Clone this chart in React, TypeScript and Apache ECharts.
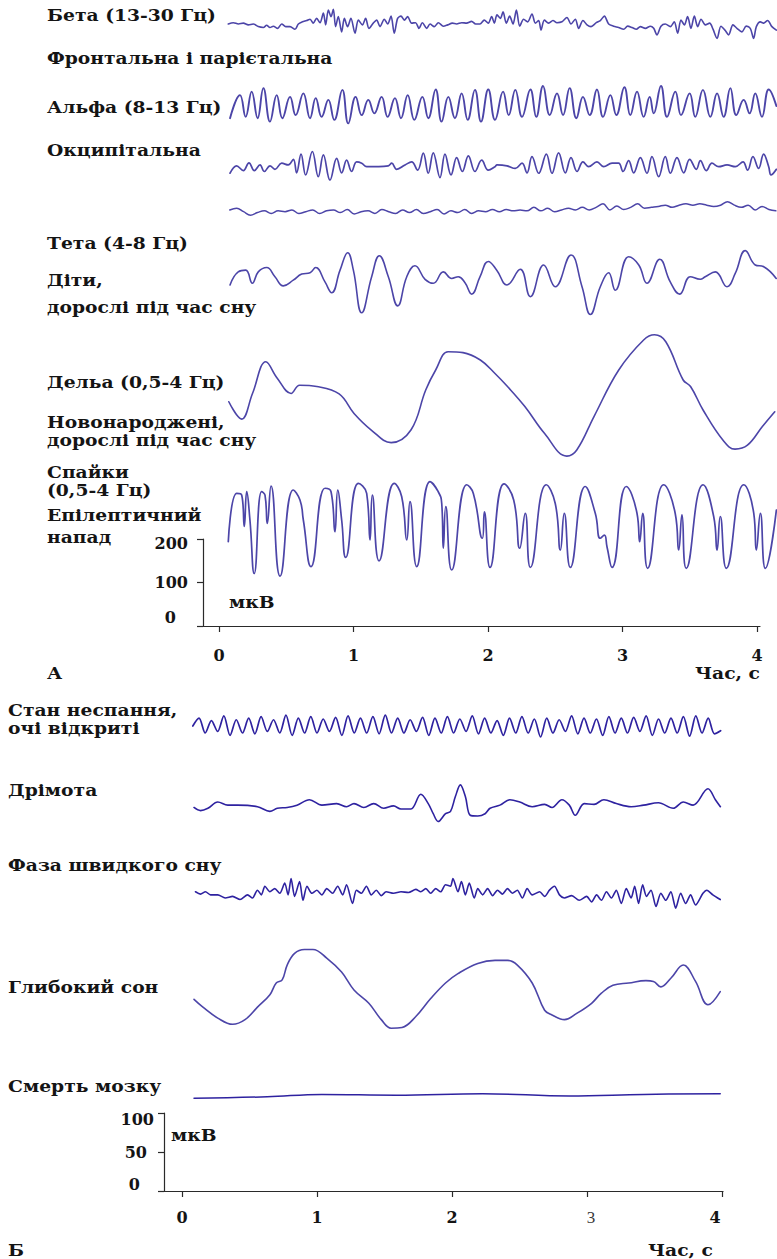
import React, { useEffect, useRef } from "react";
import * as echarts from "echarts";

// ---------- tick labels ----------
const timeTicks = [0, 1, 2, 3, 4];
const ampTicksA = [0, 100, 200];
const ampTicksB = [0, 50, 100];

// ---------- section A traces: [time s, µV] ----------
const betaA: [number, number][] = [
  [0.069, 0], [0.107, 3], [0.144, 0], [0.181, 2], [0.218, -2], [0.255, 0], [0.292, -6], [0.33, -8], [0.354, -3], [0.379, -8],
  [0.404, -5], [0.436, -10], [0.466, 0], [0.496, -6], [0.528, -6], [0.565, -12], [0.59, 0], [0.62, 5], [0.652, 8], [0.677, 11],
  [0.701, 2], [0.726, 13], [0.751, 3], [0.776, 25], [0.793, -2], [0.813, 32], [0.833, 17], [0.85, 34], [0.867, -6], [0.887, 17],
  [0.912, -18], [0.932, 13], [0.956, -6], [0.981, 13], [1.011, -21], [1.036, 9], [1.066, -2], [1.09, 13], [1.115, -10], [1.147, 2],
  [1.172, 9], [1.197, -6], [1.229, 11], [1.254, 0], [1.279, 18], [1.303, -21], [1.328, 13], [1.353, 18], [1.378, 9], [1.403, 17],
  [1.432, 2], [1.462, 3], [1.487, -10], [1.512, 3], [1.544, -10], [1.569, 0], [1.601, -6], [1.631, 3], [1.668, -5], [1.7, -2],
  [1.735, 2], [1.767, 0], [1.804, 3], [1.841, 2], [1.878, 6], [1.908, 0], [1.94, 0], [1.972, 9], [2.002, 2], [2.027, 17],
  [2.047, 2], [2.067, 21], [2.092, 13], [2.112, 28], [2.136, 2], [2.161, 18], [2.186, 0], [2.211, 32], [2.236, -5], [2.265, 11],
  [2.295, 5], [2.327, 23], [2.352, 2], [2.377, 8], [2.394, -14], [2.419, 9], [2.451, 2], [2.483, 8], [2.513, 3], [2.55, 5],
  [2.587, 15], [2.617, 0], [2.649, 11], [2.674, -10], [2.706, 8], [2.736, -2], [2.766, -6], [2.805, 3], [2.835, 8], [2.865, 18],
  [2.897, 0], [2.934, -5], [2.971, -8], [3.009, -12], [3.038, -5], [3.071, -8], [3.103, -12], [3.133, -6], [3.17, -10], [3.207, -5],
  [3.232, -10], [3.256, -25], [3.286, -5], [3.318, 0], [3.356, -6], [3.385, 5], [3.41, -21], [3.435, 9], [3.46, -2], [3.484, 17],
  [3.509, -10], [3.534, 18], [3.559, -6], [3.584, 11], [3.616, -2], [3.648, 2], [3.673, -12], [3.703, -33], [3.732, -5], [3.764, -15],
  [3.789, -25], [3.821, -2], [3.851, -10], [3.888, -18], [3.92, -5], [3.95, -10], [3.975, -33], [3.995, -6], [4.025, 5], [4.049, 2],
  [4.079, 8], [4.111, -6], [4.144, -14],
];

const alphaA: [number, number][] = [
  [0.082, -28], [0.156, 25], [0.198, -25], [0.243, 33], [0.287, -28], [0.33, 41], [0.379, -36], [0.429, 25], [0.471, -28], [0.528, 21],
  [0.57, -21], [0.627, 29], [0.677, -28], [0.719, 18], [0.763, -25], [0.813, 14], [0.857, -32], [0.917, 37], [0.961, -40], [1.016, 21],
  [1.061, -21], [1.11, 14], [1.155, -17], [1.209, 21], [1.254, -25], [1.308, 18], [1.353, -28], [1.403, 25], [1.452, -32], [1.512, 21],
  [1.556, -28], [1.611, 38], [1.655, -36], [1.705, 21], [1.754, -28], [1.804, 29], [1.849, -32], [1.903, 37], [1.948, -36], [2.002, 38],
  [2.052, -32], [2.112, 33], [2.154, -21], [2.203, 37], [2.253, -25], [2.315, 38], [2.359, -25], [2.409, 46], [2.459, -21], [2.513, 29],
  [2.558, -21], [2.607, 41], [2.657, -28], [2.706, 21], [2.756, -21], [2.81, 38], [2.855, -25], [2.91, 25], [2.954, -21], [3.014, 43],
  [3.058, -21], [3.108, 33], [3.157, -25], [3.202, 21], [3.232, -17], [3.286, 46], [3.331, -25], [3.393, 33], [3.435, -21], [3.499, 29],
  [3.541, -25], [3.598, 37], [3.653, -25], [3.703, 29], [3.752, -25], [3.802, 41], [3.846, -21], [3.901, 14], [3.945, -17], [3.987, 29],
  [4.037, -25], [4.087, 38], [4.144, 0],
];

const occipitalA: [number, number][] = [
  [0.082, -15], [0.131, 2], [0.181, -9], [0.223, 9], [0.263, -9], [0.305, 4], [0.337, -11], [0.379, 2], [0.416, -6], [0.466, 8],
  [0.515, 4], [0.553, 17], [0.577, -14], [0.61, 29], [0.644, -19], [0.694, 35], [0.738, -23], [0.776, 27], [0.825, -31], [0.875, 19],
  [0.912, -14], [0.949, 15], [0.986, -11], [1.023, 11], [1.061, 8], [1.098, 0], [1.259, 2], [1.284, 8], [1.321, -6], [1.383, 4],
  [1.432, 11], [1.477, -8], [1.519, 31], [1.556, -15], [1.593, 32], [1.643, -25], [1.68, 29], [1.725, -19], [1.767, 21], [1.809, -11],
  [1.854, 25], [1.903, -11], [1.953, 15], [2.002, -8], [2.052, 0], [2.067, 4], [2.141, 2], [2.203, -4], [2.253, 8], [2.29, -14],
  [2.327, 23], [2.377, -15], [2.434, 29], [2.476, -15], [2.525, 32], [2.575, -14], [2.617, 21], [2.662, -11], [2.706, 11], [2.748, 0],
  [2.81, 11], [2.86, 0], [2.922, 8], [2.971, 8], [3.004, -11], [3.046, 14], [3.083, -14], [3.133, 21], [3.182, -15], [3.219, 23],
  [3.269, -23], [3.318, 23], [3.356, -15], [3.405, 21], [3.455, -14], [3.499, 17], [3.549, -6], [3.579, 14], [3.623, -9], [3.665, 8],
  [3.715, 0], [3.777, 4], [3.839, 0], [3.896, 11], [3.93, -8], [3.97, 23], [4.012, -4], [4.049, 29], [4.087, 0], [4.104, -19],
  [4.144, -6],
];

// low-amplitude occipital trace, equally spaced samples from 0.08 s to 4.14 s
const flatValuesA = [
  4, 8, 0, -8, -2, 2, -4, 2, 0, 4, -4, 0, 4, -4, 2, 4, -2, 5, -5, 0, 2, -4, 5, 0, -4, 4, -2, 5, -4, 0, 5, -5, 2, -2, 5, -4, 2, 0, 5, 0, 5, 2, 4,
  2, 10, 2, 8, 0, 4, 8, 4, 10, 4, 10, 18, 4, 13, 5, 10, 18, 8, 10, 12, 15, 10, 15, 18, 15, 18, 15, 12, 15, 23, 15, 10, 15, 4, 12, 5, 2,
];

const thetaA: [number, number][] = [
  [0.082, -16], [0.143, 14], [0.199, 18], [0.248, -12], [0.292, 14], [0.355, 24], [0.416, 3], [0.478, -18], [0.552, -5], [0.615, 9],
  [0.677, 12], [0.719, 24], [0.788, -9], [0.838, -34], [0.9, 18], [0.957, 58], [0.999, 18], [1.061, -80], [1.135, 3], [1.192, 51],
  [1.259, 3], [1.329, -64], [1.396, 3], [1.457, 28], [1.532, -3], [1.593, -12], [1.668, 14], [1.73, -1], [1.779, 3], [1.829, -11],
  [1.879, -37], [1.941, 3], [2.002, 38], [2.065, 18], [2.141, -16], [2.24, 20], [2.315, -43], [2.414, 30], [2.5, -20], [2.617, 53],
  [2.699, -20], [2.761, -84], [2.835, -20], [2.897, 12], [2.946, -28], [3.046, 49], [3.121, 30], [3.182, -12], [3.277, 43], [3.355, -9],
  [3.425, -37], [3.504, 3], [3.578, -3], [3.615, 3], [3.69, 14], [3.777, -20], [3.839, 11], [3.913, 63], [3.987, 30], [4.05, 26],
  [4.143, -1],
];

const deltaA: [number, number][] = [
  [0.073, -4], [0.169, -44], [0.249, 15], [0.348, 88], [0.433, 50], [0.536, 15], [0.599, 34], [0.727, 31], [0.893, 14], [1.004, -31],
  [1.132, -69], [1.28, -98], [1.427, -69], [1.537, 23], [1.611, 69], [1.703, 111], [1.814, 109], [1.943, 92], [2.052, 61], [2.145, 31],
  [2.274, -15], [2.421, -77], [2.586, -129], [2.66, -115], [2.788, -38], [2.972, 69], [3.157, 138], [3.238, 150], [3.322, 134], [3.451, 46],
  [3.506, 31], [3.599, -23], [3.746, -92], [3.837, -113], [3.929, -104], [4.04, -61], [4.132, -27],
];

const spikesA: [number, number][] = [
  [0.069, -27], [0.132, 84], [0.169, 80], [0.188, 8], [0.206, 88], [0.23, 23], [0.262, -100], [0.317, 88], [0.342, 80], [0.359, 15],
  [0.387, 101], [0.454, -106], [0.552, 92], [0.602, 69], [0.627, 23], [0.684, -84], [0.788, 96], [0.833, 88], [0.862, -4], [0.883, 92],
  [0.912, 23], [0.942, -63], [1.036, 107], [1.098, 84], [1.123, -23], [1.14, 80], [1.19, -71], [1.303, 107], [1.358, 77], [1.396, -23],
  [1.42, 65], [1.47, -84], [1.569, 111], [1.63, 88], [1.656, 61], [1.668, -42], [1.686, 54], [1.73, -92], [1.842, 104], [1.891, 84],
  [1.958, -19], [1.973, 42], [2.015, -86], [2.119, 106], [2.191, 69], [2.236, -42], [2.277, 38], [2.315, -86], [2.433, 104], [2.5, 61],
  [2.538, -46], [2.567, 38], [2.612, -86], [2.723, 100], [2.798, 38], [2.835, -19], [2.865, -12], [2.885, -39], [2.922, -86], [3.028, 100],
  [3.108, 38], [3.128, -27], [3.15, 38], [3.187, -88], [3.306, 104], [3.392, 38], [3.418, -46], [3.442, 35], [3.474, -88], [3.599, 104],
  [3.678, 31], [3.703, -46], [3.727, 31], [3.772, -88], [3.901, 104], [3.976, 38], [3.995, -46], [4.025, 38], [4.062, -88], [4.144, 46],
];

// ---------- section B traces ----------
// awake, eyes open: equally spaced samples from 0.08 s to 3.99 s
const awakeValuesB = [
  0, 10, -9, 7, -7, 13, -12, 8, -9, 10, -10, 12, -7, 8, -9, 14, -12, 10, -9, 12,
  -9, 9, -7, 11, -12, 13, -9, 10, -9, 12, -10, 14, -9, 10, -9, 8, -7, 11, -12, 10,
  -9, 12, -9, 9, -7, 13, -10, 10, -9, 7, -12, 10, -9, 12, -9, 9, -14, 10, -9, 8,
  -7, 13, -10, 10, -9, 9, -12, 12, -9, 10, -9, 11, -7, 13, -12, 9, -9, 10, -9, 12,
  -13, 13, -9, 10, -10, -6,
];

const drowsyB: [number, number][] = [
  [0.089, -1], [0.137, -5], [0.192, -2], [0.265, 6], [0.339, 2], [0.412, 2], [0.559, 0], [0.651, -6], [0.706, -2], [0.779, -1],
  [0.852, 2], [0.944, 9], [1.036, 2], [1.146, 4], [1.219, 0], [1.274, 4], [1.347, -1], [1.42, 4], [1.494, -2], [1.567, 1],
  [1.622, -3], [1.696, -3], [1.769, 16], [1.824, 4], [1.861, -9], [1.897, -19], [1.952, -9], [1.989, -6], [2.025, 13], [2.062, 28],
  [2.099, 13], [2.135, -11], [2.191, -12], [2.245, -9], [2.282, -2], [2.355, 2], [2.429, 9], [2.502, 6], [2.594, 0], [2.686, 3],
  [2.741, -1], [2.814, 9], [2.869, 2], [2.913, -11], [2.979, 4], [3.052, 3], [3.125, 9], [3.217, 4], [3.327, 0], [3.419, 2],
  [3.529, 5], [3.639, -2], [3.713, 6], [3.786, 2], [3.896, 23], [3.951, 9], [3.988, 0],
];

const remB: [number, number][] = [
  [0.1, 2], [0.137, -1], [0.174, 2], [0.211, -2], [0.265, -2], [0.32, -6], [0.375, -4], [0.43, -8], [0.486, -2], [0.522, -6],
  [0.559, 4], [0.588, -2], [0.614, 9], [0.651, 2], [0.687, 6], [0.724, 0], [0.761, 13], [0.786, -2], [0.808, 19], [0.834, -4],
  [0.871, 15], [0.896, -9], [0.926, 9], [0.962, 0], [0.999, 4], [1.036, -2], [1.072, 6], [1.116, 0], [1.153, 9], [1.19, -2],
  [1.219, 11], [1.263, -13], [1.292, 4], [1.329, 0], [1.366, 9], [1.402, -2], [1.439, 4], [1.476, -3], [1.512, 2], [1.567, 0],
  [1.622, 2], [1.677, 1], [1.732, 5], [1.769, 2], [1.806, 6], [1.842, 0], [1.879, 6], [1.916, 2], [1.952, 11], [1.989, 9],
  [2.007, 19], [2.044, 2], [2.07, 15], [2.099, -2], [2.128, 13], [2.165, -6], [2.191, 6], [2.227, -2], [2.264, 6], [2.301, -3],
  [2.337, 4], [2.374, -1], [2.411, 6], [2.447, 0], [2.484, 4], [2.521, -6], [2.557, 6], [2.594, -2], [2.649, 2], [2.686, -4],
  [2.722, 4], [2.759, 9], [2.796, -2], [2.832, -6], [2.887, -3], [2.942, -9], [2.997, -4], [3.034, -11], [3.071, -2], [3.107, -9],
  [3.144, 2], [3.181, -6], [3.217, 4], [3.254, -13], [3.291, 6], [3.327, -6], [3.353, 9], [3.382, -13], [3.412, 11], [3.441, -4],
  [3.474, 4], [3.511, -17], [3.547, 0], [3.584, -9], [3.621, 2], [3.657, -19], [3.694, 0], [3.731, -13], [3.767, -2], [3.804, -15],
  [3.859, 0], [3.888, 4], [3.932, -2], [3.987, -8],
];

const deepSleepB: [number, number][] = [
  [0.089, -12], [0.155, -22], [0.265, -36], [0.375, -44], [0.467, -38], [0.559, -22], [0.651, -6], [0.698, 9], [0.742, 13], [0.779, 32],
  [0.834, 47], [0.907, 52], [0.97, 52], [1.072, 41], [1.182, 23], [1.274, 0], [1.384, -17], [1.476, -38], [1.549, -49], [1.63, -48],
  [1.732, -34], [1.842, -11], [1.952, 9], [2.044, 21], [2.191, 34], [2.319, 38], [2.411, 38], [2.484, 32], [2.594, 9], [2.686, -26],
  [2.741, -32], [2.833, -38], [2.924, -30], [3.034, -17], [3.107, -4], [3.192, 6], [3.309, 9], [3.437, 12], [3.492, 11], [3.547, 4],
  [3.621, 15], [3.713, 32], [3.804, 11], [3.896, -19], [3.987, -2],
];

const brainDeathB: [number, number][] = [
  [0.089, -3], [0.632, -1], [1.036, 2], [1.586, 1], [2.227, 3], [2.869, 0], [3.419, 2], [3.987, 3],
];

// ---------- layout ----------
const SEC_A = { x0: 219, pxPerSec: 134.5, pxPerUv: 0.435, tMax: 4.15 };
const SEC_B = { x0: 182, pxPerSec: 135, pxPerUv: 0.78, tMax: 4.05 };
const BAND = 70;
const COL_A = "#4c45a8";
const COL_B = "#2e22a0";
const FONT_FAMILY = '"DejaVu Serif", serif';
const TEXT_COL = "#141414";

const evenly = (vals: number[], t0: number, t1: number): [number, number][] =>
  vals.map((v, i) => [t0 + (i * (t1 - t0)) / (vals.length - 1), v]);

const traces = [
  { data: betaA, sec: SEC_A, base: 24, color: COL_A, width: 1.6, smooth: 0.3 },
  { data: alphaA, sec: SEC_A, base: 106, color: COL_A, width: 1.9, smooth: 0.45 },
  { data: occipitalA, sec: SEC_A, base: 166.7, color: COL_A, width: 1.7, smooth: 0.4 },
  { data: evenly(flatValuesA, 0.08, 4.14), sec: SEC_A, base: 211.7, color: COL_A, width: 1.5, smooth: 0.4 },
  { data: thetaA, sec: SEC_A, base: 278, color: COL_A, width: 1.6, smooth: 0.45 },
  { data: deltaA, sec: SEC_A, base: 400, color: COL_A, width: 1.6, smooth: 0.4 },
  { data: spikesA, sec: SEC_A, base: 530, color: COL_A, width: 1.7, smooth: 0.5 },
  { data: evenly(awakeValuesB, 0.08, 3.99), sec: SEC_B, base: 726, color: COL_B, width: 1.7, smooth: 0.3 },
  { data: drowsyB, sec: SEC_B, base: 806.7, color: COL_B, width: 1.6, smooth: 0.35 },
  { data: remB, sec: SEC_B, base: 893.3, color: COL_B, width: 1.6, smooth: 0.25 },
  { data: deepSleepB, sec: SEC_B, base: 990, color: COL_A, width: 1.6, smooth: 0.4 },
  { data: brainDeathB, sec: SEC_B, base: 1096, color: COL_B, width: 1.5, smooth: 0.4 },
];

const textLayout: { text: string; x: number; y: number; align?: string }[] = [
  { text: "Бета (13-30 Гц)", x: 47, y: 15 },
  { text: "Фронтальна і парієтальна", x: 47, y: 58 },
  { text: "Альфа (8-13 Гц)", x: 47, y: 107 },
  { text: "Окципітальна", x: 47, y: 150 },
  { text: "Тета (4-8 Гц)", x: 47, y: 243 },
  { text: "Діти,", x: 47, y: 280 },
  { text: "дорослі під час сну", x: 47, y: 307 },
  { text: "Дельа (0,5-4 Гц)", x: 47, y: 382 },
  { text: "Новонароджені,", x: 47, y: 422 },
  { text: "дорослі під час сну", x: 47, y: 440 },
  { text: "Спайки", x: 47, y: 472 },
  { text: "(0,5-4 Гц)", x: 47, y: 490 },
  { text: "Епілептичний", x: 47, y: 515 },
  { text: "напад", x: 47, y: 537 },
  { text: "мкВ", x: 229, y: 602 },
  { text: "А", x: 47, y: 673 },
  { text: "Час, с", x: 760, y: 673, align: "right" },
  { text: "Стан неспання,", x: 8, y: 710 },
  { text: "очі відкриті", x: 8, y: 728 },
  { text: "Дрімота", x: 8, y: 790 },
  { text: "Фаза швидкого сну", x: 8, y: 865 },
  { text: "Глибокий сон", x: 8, y: 987 },
  { text: "Смерть мозку", x: 8, y: 1086 },
  { text: "мкВ", x: 171, y: 1135 },
  { text: "Б", x: 8, y: 1250 },
  { text: "Час, с", x: 713, y: 1250, align: "right" },
];

const numFont = { fontFamily: FONT_FAMILY, fontWeight: "bold" as const, fontSize: 16, color: TEXT_COL };

function buildOption() {
  const grids: any[] = [];
  const xAxes: any[] = [];
  const yAxes: any[] = [];
  const series: any[] = [];

  traces.forEach((tr, i) => {
    grids.push({
      left: tr.sec.x0,
      top: tr.base - BAND,
      width: tr.sec.tMax * tr.sec.pxPerSec,
      height: 2 * BAND,
      containLabel: false,
      outerBoundsMode: "none",
    });
    xAxes.push({ type: "value", gridIndex: i, min: 0, max: tr.sec.tMax, show: false });
    yAxes.push({
      type: "value",
      gridIndex: i,
      min: -BAND / tr.sec.pxPerUv,
      max: BAND / tr.sec.pxPerUv,
      show: false,
    });
    series.push({
      type: "line",
      xAxisIndex: i,
      yAxisIndex: i,
      data: tr.data,
      symbol: "none",
      showSymbol: false,
      smooth: tr.smooth,
      clip: false,
      lineStyle: { color: tr.color, width: tr.width, cap: "round", join: "round" },
      silent: true,
    });
  });

  const axisLineStyle = { color: "#2a2a2a", width: 1.2 };

  // axes of section A
  const ia = traces.length;
  grids.push({ left: 203, top: 539, width: 557, height: 87, containLabel: false, outerBoundsMode: "none" });
  xAxes.push({
    type: "value",
    gridIndex: ia,
    min: (203 - SEC_A.x0) / SEC_A.pxPerSec,
    max: (760 - SEC_A.x0) / SEC_A.pxPerSec,
    axisLine: { show: true, onZero: false, lineStyle: axisLineStyle },
    axisTick: { show: true, customValues: timeTicks, length: 6, inside: false, lineStyle: axisLineStyle },
    axisLabel: { show: true, customValues: timeTicks, margin: 21, ...numFont },
    splitLine: { show: false },
  });
  yAxes.push({
    type: "value",
    gridIndex: ia,
    min: 0,
    max: 200,
    interval: 100,
    axisLine: { show: true, onZero: false, lineStyle: axisLineStyle },
    axisTick: { show: true, length: 6, lineStyle: axisLineStyle, customValues: ampTicksA },
    axisLabel: {
      show: true,
      margin: 15,
      customValues: ampTicksA,
      ...numFont,
      formatter: (v: number) => (v === 200 ? `{lo|${v}}` : v === 0 ? `{hi|${v}}` : `{n|${v}}`),
      rich: {
        lo: { ...numFont, padding: [8, 0, 0, 0] },
        hi: { ...numFont, padding: [0, 12, 18, 0] },
        n: { ...numFont },
      },
    },
    splitLine: { show: false },
  });

  // axes of section B
  const ib = traces.length + 1;
  grids.push({ left: 164, top: 1113, width: 559, height: 78, containLabel: false, outerBoundsMode: "none" });
  xAxes.push({
    type: "value",
    gridIndex: ib,
    min: (164 - SEC_B.x0) / SEC_B.pxPerSec,
    max: (723 - SEC_B.x0) / SEC_B.pxPerSec,
    axisLine: { show: true, onZero: false, lineStyle: axisLineStyle },
    axisTick: { show: true, customValues: timeTicks, length: 6, inside: false, lineStyle: axisLineStyle },
    axisLabel: {
      show: true,
      customValues: timeTicks,
      margin: 18,
      ...numFont,
      formatter: (v: number) => (v === 3 ? `{thin|${v}}` : v === 4 ? `{sh|${v}}` : `{n|${v}}`),
      rich: {
        thin: { fontFamily: '"Liberation Serif", serif', fontWeight: "normal", fontSize: 17, color: "#3a3a3a", padding: [0, 0, 0, 8] },
        sh: { ...numFont, padding: [0, 14, 0, 0] },
        n: { ...numFont },
      },
    },
    splitLine: { show: false },
  });
  yAxes.push({
    type: "value",
    gridIndex: ib,
    min: 0,
    max: 100,
    interval: 50,
    axisLine: { show: true, onZero: false, lineStyle: axisLineStyle },
    axisTick: { show: true, length: 6, lineStyle: axisLineStyle, customValues: ampTicksB },
    axisLabel: {
      show: true,
      margin: 10,
      customValues: ampTicksB,
      ...numFont,
      formatter: (v: number) => (v === 100 ? `{lo|${v}}` : v === 0 ? `{hi|${v}}` : `{n|${v}}`),
      rich: {
        lo: { ...numFont, padding: [12, 0, 0, 0] },
        hi: { ...numFont, padding: [0, 14, 14, 0] },
        n: { ...numFont, padding: [0, 7, 0, 0] },
      },
    },
    splitLine: { show: false },
  });

  const graphic = textLayout.map((t) => ({
    type: "text",
    x: t.x,
    y: t.y,
    scaleX: 1.17,
    silent: true,
    style: {
      text: t.text,
      fill: TEXT_COL,
      font: `bold 16px ${FONT_FAMILY}`,
      align: t.align || "left",
      verticalAlign: "middle",
    },
  }));

  return {
    animation: false,
    backgroundColor: "#ffffff",
    grid: grids,
    xAxis: xAxes,
    yAxis: yAxes,
    series,
    graphic,
  };
}

export default function App() {
  const ref = useRef<HTMLDivElement>(null);
  useEffect(() => {
    document.body.style.margin = "0";
    if (!ref.current) return;
    const chart = echarts.init(ref.current, undefined, { renderer: "svg", width: 777, height: 1259 });
    chart.setOption(buildOption() as any);
    return () => chart.dispose();
  }, []);
  return <div ref={ref} style={{ width: 777, height: 1259 }} />;
}
